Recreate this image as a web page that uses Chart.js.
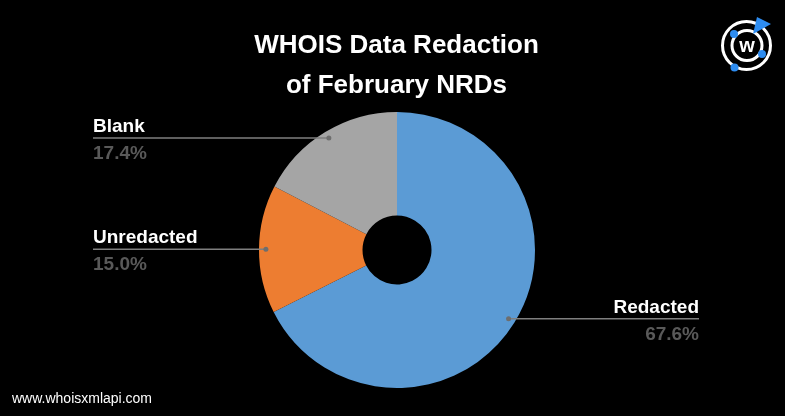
<!DOCTYPE html>
<html>
<head>
<meta charset="utf-8">
<script src="https://cdn.jsdelivr.net/npm/chart.js@4"></script>
<style>
  html, body { margin: 0; padding: 0; background: #000; }
  #wrap { position: relative; width: 785px; height: 416px; background: #000; overflow: hidden; }
  #title { position: absolute; left: 0; width: 793px; top: 24px; text-align: center; color: #fff;
           font: bold 26px "Liberation Sans", Arial, sans-serif; line-height: 40px; }
  #url { position: absolute; left: 12px; top: 390px; color: #fff; font: 14px "Liberation Sans", Arial, sans-serif; }
  #logo { position: absolute; left: 700px; top: 0px; }
</style>
</head>
<body>
<div id="wrap">
  <canvas id="pieChart" width="785" height="416"></canvas>
  <div id="title">WHOIS Data Redaction<br>of February NRDs</div>
  <div id="url">www.whoisxmlapi.com</div>
  <svg id="logo" width="85" height="80" viewBox="0 0 85 80">
    <circle cx="46.5" cy="45.5" r="24" fill="none" stroke="#fff" stroke-width="3"/>
    <circle cx="47" cy="45.5" r="15" fill="none" stroke="#fff" stroke-width="3"/>
    <text x="47" y="52" text-anchor="middle" fill="#fff" font-family="Liberation Sans, Arial" font-weight="bold" font-size="20">w</text>
    <path d="M57 17 L71 24 L53 34 Z" fill="#2d8cf0"/>
    <circle cx="34" cy="34" r="4" fill="#2d8cf0"/>
    <circle cx="62" cy="54" r="4" fill="#2d8cf0"/>
    <circle cx="34.5" cy="67.5" r="4" fill="#2d8cf0"/>
  </svg>
</div>
<script>
// chart data
const categories = ['Redacted', 'Unredacted', 'Blank'];
const shares = [67.6, 15.0, 17.4];
const sliceColors = ['#5b9bd5', '#ed7d31', '#a5a5a5'];

// label columns (left side for small slices, right side for the big one)
const leftX = 93;
const rightX = 699;

// draws the leader lines, dots and labels
const calloutPlugin = {
    id: 'callouts',
    afterDatasetsDraw(chart) {
        const ctx = chart.ctx;
        const meta = chart.getDatasetMeta(0);
        ctx.save();
        meta.data.forEach((arc, i) => {
            const mid = (arc.startAngle + arc.endAngle) / 2;
            const r = arc.outerRadius * 0.95;
            const px = arc.x + Math.cos(mid) * r;
            const py = arc.y + Math.sin(mid) * r;
            const onRight = Math.cos(mid) > 0;
            const endX = onRight ? rightX : leftX;

            ctx.strokeStyle = '#7f7f7f';
            ctx.lineWidth = 1.5;
            ctx.beginPath();
            ctx.moveTo(px, py);
            ctx.lineTo(endX, py);
            ctx.stroke();

            ctx.fillStyle = '#6e6e6e';
            ctx.beginPath();
            ctx.arc(px, py, 2.5, 0, Math.PI * 2);
            ctx.fill();

            ctx.textAlign = onRight ? 'right' : 'left';
            ctx.font = 'bold 19px "Liberation Sans", Arial, sans-serif';
            ctx.fillStyle = '#ffffff';
            ctx.textBaseline = 'alphabetic';
            ctx.fillText(categories[i], endX, py - 6);
            ctx.fillStyle = '#595959';
            ctx.textBaseline = 'top';
            ctx.fillText(shares[i].toFixed(1) + '%', endX, py + 6);
        });
        ctx.restore();
    }
};

const ctx = document.getElementById('pieChart').getContext('2d');
new Chart(ctx, {
    type: 'doughnut',
    data: {
        labels: categories,
        datasets: [{
            data: shares,
            backgroundColor: sliceColors,
            borderWidth: 0
        }]
    },
    options: {
        responsive: false,
        animation: false,
        cutout: '25%',
        layout: { padding: { top: 112, bottom: 28, left: 9, right: 0 } },
        plugins: {
            legend: { display: false },
            tooltip: { enabled: false }
        }
    },
    plugins: [calloutPlugin]
});
</script>
</body>
</html>
